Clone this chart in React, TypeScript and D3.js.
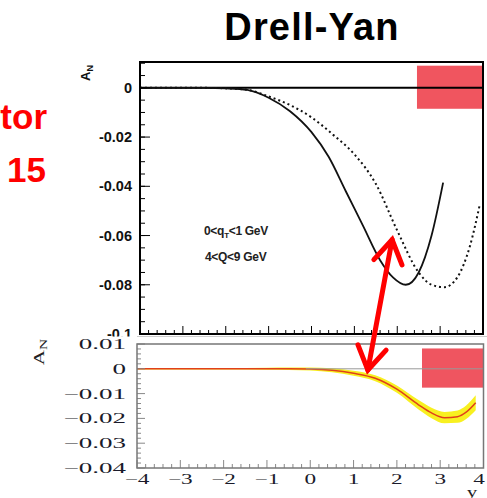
import React from "react";
import * as d3 from "d3";

// ---- data ----
const solidX = [-4, -2.5, -2, -1.5, -1, -0.5, 0, 0.4, 0.8, 1.2, 1.6, 1.9, 2.2, 2.5, 2.8, 3.07];
const solidY = [0, 0, -0.0002, -0.0008, -0.004, -0.0095, -0.018, -0.028, -0.042, -0.056, -0.07, -0.077, -0.08, -0.075, -0.06, -0.0385];
const dottedX = [-4, -2.5, -2, -1.5, -1, -0.5, 0, 0.5, 1, 1.5, 2, 2.5, 2.8, 3.1, 3.4, 3.7, 3.93];
const dottedY = [0, 0, -0.0002, -0.0008, -0.0035, -0.007, -0.012, -0.019, -0.027, -0.039, -0.058, -0.075, -0.08, -0.081, -0.077, -0.064, -0.047];
const bandX = [-4, -3, -2, -1, -0.5, 0, 0.5, 1, 1.5, 2, 2.5, 2.8, 3.1, 3.4, 3.6, 3.82];
const bandC = [0, 0, 0, 0, 0, -0.0001, -0.0006, -0.0018, -0.0038, -0.0082, -0.0145, -0.0178, -0.0197, -0.0193, -0.0175, -0.0137];
const bandW = [0.0003, 0.0003, 0.0003, 0.0004, 0.0005, 0.0006, 0.0008, 0.001, 0.0012, 0.0015, 0.0019, 0.0021, 0.0023, 0.0025, 0.0027, 0.003];
const topBoxX = [2.46, 4];
const topBoxY = [-0.0085, 0.009];
const botBoxX = [2.58, 4];
const botBoxY = [-0.0076, 0.0082];
const topYTicks = [0, -0.02, -0.04, -0.06, -0.08, -0.1];
const topYTickLabels = ["0", "-0.02", "-0.04", "-0.06", "-0.08", "-0.1"];
const botYTicks = [0.01, 0, -0.01, -0.02, -0.03, -0.04];
const botYTickLabels = ["0.01", "0", "\u22120.01", "\u22120.02", "\u22120.03", "\u22120.04"];
const xTicks = [-4, -3, -2, -1, 0, 1, 2, 3, 4];
const xTickLabels = ["\u22124", "\u22123", "\u22122", "\u22121", "0", "1", "2", "3", "4"];
const arrowTop = [1.88, -0.0617]; // in top-panel data coords
const arrowBot = [1.33, -0.0005]; // in bottom-panel data coords

export default function App() {
  const xT = d3.scaleLinear().domain([-4, 4]).range([140, 483]);
  const yT = d3.scaleLinear().domain([-0.1, 0.0105]).range([334, 62]);
  const xB = d3.scaleLinear().domain([-4, 4]).range([137, 483.5]);
  const yB = d3.scaleLinear().domain([-0.04, 0.01]).range([468, 344]);

  const solidPath = d3.line<number>().x((d, i) => xT(solidX[i])).y((d) => yT(d)).curve(d3.curveMonotoneX)(solidY) || "";
  const dottedPath = d3.line<number>().x((d, i) => xT(dottedX[i])).y((d) => yT(d)).curve(d3.curveMonotoneX)(dottedY) || "";
  const bandPath = d3.area<number>().x((d, i) => xB(bandX[i])).y0((d, i) => yB(d - bandW[i])).y1((d, i) => yB(d + bandW[i])).curve(d3.curveMonotoneX)(bandC) || "";
  const centerPath = d3.line<number>().x((d, i) => xB(bandX[i])).y((d) => yB(d)).curve(d3.curveMonotoneX)(bandC) || "";

  const topMinorY = d3.range(-0.1, 0.0101, 0.005);
  const minorX = d3.range(-4, 4.001, 0.2);
  const botMinorY = d3.range(-0.04, 0.0101, 0.002);

  // arrow
  const p1 = [xT(arrowTop[0]), yT(arrowTop[1])];
  const p2 = [xB(arrowBot[0]), yB(arrowBot[1])];
  const dx = p1[0] - p2[0], dy = p1[1] - p2[1];
  const len = Math.hypot(dx, dy);
  const ux = dx / len, uy = dy / len;
  const head = (tip: number[], bx: number, by: number) => {
    const L = 27, a = (32 * Math.PI) / 180;
    const r = (ang: number) => [bx * Math.cos(ang) - by * Math.sin(ang), bx * Math.sin(ang) + by * Math.cos(ang)];
    const a1 = r(a), a2 = r(-a);
    return `M${tip[0] + a1[0] * L},${tip[1] + a1[1] * L}L${tip[0]},${tip[1]}L${tip[0] + a2[0] * L},${tip[1] + a2[1] * L}`;
  };

  const serif = "'Liberation Serif', 'DejaVu Serif', serif";
  const sans = "'Liberation Sans', Arial, sans-serif";

  return (
    <svg width={487} height={498} style={{ position: "absolute", left: 0, top: 0, background: "#fff" }}>
      <defs>
        <clipPath id="topClip"><rect x={0} y={0} width={487} height={336.5} /></clipPath>
      </defs>
      <rect x={0} y={0} width={487} height={498} fill="#fff" />
      {/* title and cut-off red text */}
      <text x={312} y={40} textAnchor="middle" fontFamily={sans} fontWeight="bold" fontSize={38} letterSpacing={1.2} fill="#000">Drell-Yan</text>
      <text x={47} y={129} textAnchor="end" fontFamily={sans} fontWeight="bold" fontSize={35} fill="#ff0000">tor</text>
      <text x={46} y={182} textAnchor="end" fontFamily={sans} fontWeight="bold" fontSize={35} fill="#ff0000">15</text>

      {/* ---- top panel ---- */}
      <rect x={xT(topBoxX[0])} y={yT(topBoxY[1])} width={xT(topBoxX[1]) - xT(topBoxX[0])} height={yT(topBoxY[0]) - yT(topBoxY[1])} fill="#f0555f" />
      <line x1={xT(-4)} x2={xT(4)} y1={yT(0)} y2={yT(0)} stroke="#000" strokeWidth={2} />
      <path d={dottedPath} fill="none" stroke="#111" strokeWidth={2} strokeDasharray="2,3" />
      <path d={solidPath} fill="none" stroke="#111" strokeWidth={1.8} />
      {topMinorY.map((v, i) => (
        <line key={"tmy" + i} x1={140} x2={145} y1={yT(v)} y2={yT(v)} stroke="#000" strokeWidth={1} />
      ))}
      {topYTicks.map((v, i) => (
        <line key={"tMy" + i} x1={140} x2={150} y1={yT(v)} y2={yT(v)} stroke="#000" strokeWidth={1} />
      ))}
      {minorX.map((v, i) => (
        <line key={"tmx" + i} x1={xT(v)} x2={xT(v)} y1={334} y2={Math.abs(v - Math.round(v)) < 1e-6 ? 326 : 330} stroke="#000" strokeWidth={1} />
      ))}
      <rect x={140} y={62} width={343} height={272} fill="none" stroke="#000" strokeWidth={2} />
      <g clipPath="url(#topClip)">
        {topYTicks.map((v, i) => (
          <text key={"tyl" + i} x={132} y={yT(v) + 5} textAnchor="end" fontFamily={sans} fontWeight="bold" fontSize={14.5} fill="#111">{topYTickLabels[i]}</text>
        ))}
      </g>
      <text transform="translate(90,73) rotate(-90)" textAnchor="middle" fontFamily={sans} fontWeight="bold" fontSize={13} fill="#111">
        A<tspan dy={3} fontSize={9}>N</tspan>
      </text>
      <text x={204} y={235} fontFamily={sans} fontWeight="bold" fontSize={12} fill="#222" letterSpacing={-0.3}>
        0&lt;q<tspan dy={3} fontSize={8}>T</tspan><tspan dy={-3}>&lt;1 GeV</tspan>
      </text>
      <text x={205} y={261} fontFamily={sans} fontWeight="bold" fontSize={12} fill="#222" letterSpacing={-0.3}>4&lt;Q&lt;9 GeV</text>

      {/* separator below top panel */}
      <line x1={137} x2={487} y1={336.5} y2={336.5} stroke="#ccc" strokeWidth={1} />

      {/* ---- bottom panel ---- */}
      <path d={bandPath} fill="#f8f020" stroke="none" />
      <path d={centerPath} fill="none" stroke="#e0401a" strokeWidth={1.5} />
      <rect x={xB(botBoxX[0])} y={yB(botBoxY[1])} width={xB(botBoxX[1]) - xB(botBoxX[0])} height={yB(botBoxY[0]) - yB(botBoxY[1])} fill="#ef5560" />
      <line x1={xB(-0.1)} x2={xB(4)} y1={yB(0)} y2={yB(0)} stroke="#999" strokeWidth={1} />
      {botMinorY.map((v, i) => (
        <line key={"bmy" + i} x1={137} x2={Math.abs(v * 100 - Math.round(v * 100)) < 1e-6 ? 145 : 141} y1={yB(v)} y2={yB(v)} stroke="#888" strokeWidth={1} />
      ))}
      {minorX.map((v, i) => (
        <line key={"bmx" + i} x1={xB(v)} x2={xB(v)} y1={468} y2={Math.abs(v - Math.round(v)) < 1e-6 ? 460 : 464} stroke="#888" strokeWidth={1} />
      ))}
      <rect x={137} y={344} width={346.5} height={124} fill="none" stroke="#777" strokeWidth={1.5} />
      {botYTicks.map((v, i) => (
        <text key={"byl" + i} transform={`translate(126,${yB(v) + 5}) scale(1.8,1)`} textAnchor="end" fontFamily={serif} fontSize={15} fill="#1a1a2a">{botYTickLabels[i]}</text>
      ))}
      {xTicks.map((v, i) => (
        <text key={"bxl" + i} transform={`translate(${Math.min(xB(v), 479)},484) scale(1.55,1)`} textAnchor="middle" fontFamily={serif} fontSize={15} fill="#1a1a2a">{xTickLabels[i]}</text>
      ))}
      <text transform="translate(44,352) rotate(-90) scale(1.4,1)" textAnchor="middle" fontFamily={serif} fontSize={15} fill="#222">
        A<tspan dy={3} fontSize={11}>N</tspan>
      </text>
      <text transform="translate(472,497) scale(1.5,1)" textAnchor="middle" fontFamily={serif} fontSize={14} fill="#222">y</text>

      {/* ---- red double arrow ---- */}
      <line x1={p2[0]} y1={p2[1]} x2={p1[0]} y2={p1[1]} stroke="#ff0000" strokeWidth={5} strokeLinecap="round" />
      <path d={head(p1, -ux, -uy)} fill="none" stroke="#ff0000" strokeWidth={5} strokeLinecap="round" strokeLinejoin="miter" />
      <path d={head(p2, ux, uy)} fill="none" stroke="#ff0000" strokeWidth={5} strokeLinecap="round" strokeLinejoin="miter" />
    </svg>
  );
}
